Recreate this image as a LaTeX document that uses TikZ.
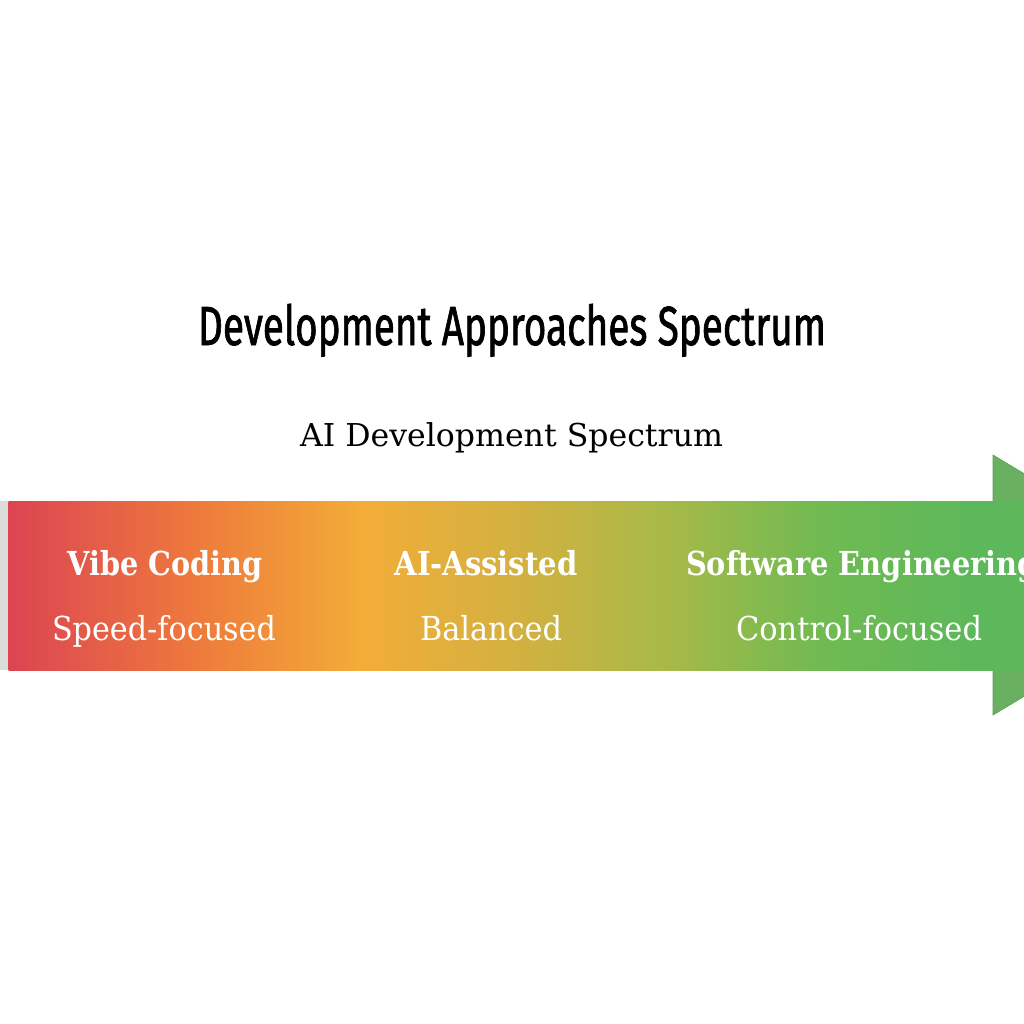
\documentclass[tikz,border=0pt]{standalone}
\usepackage{fontspec}
\usepackage{graphicx}
\newfontfamily\headfont[FakeBold=1.6]{Fira Sans}
\newfontfamily\bodyserif{DejaVu Serif}

% colours of the spectrum band
\definecolor{specA}{HTML}{DC4452}
\definecolor{specB}{HTML}{EE7B3C}
\definecolor{specC}{HTML}{F3AD38}
\definecolor{specD}{HTML}{D2B140}
\definecolor{specE}{HTML}{A9B948}
\definecolor{specF}{HTML}{70BA52}
\definecolor{specG}{HTML}{5CB85A}
\definecolor{headgreen}{HTML}{69B061}
\definecolor{headedge}{HTML}{5E9E58}
\definecolor{stripgray}{HTML}{DADCDA}

% the band colour runs from 25bp (left edge) to 75bp (right edge)
\pgfdeclarehorizontalshading{spectrum}{100bp}{%
  color(0bp)=(specA); color(25bp)=(specA); color(34.45bp)=(specB);
  color(42.32bp)=(specC); color(50.2bp)=(specD); color(57.09bp)=(specE);
  color(64.96bp)=(specF); color(72.83bp)=(specG); color(75bp)=(specG);
  color(100bp)=(specG)}

% text scaled to a given width, height kept
\newcommand{\widthto}[2]{\resizebox{#1}{\height}{#2}}

\tikzset{
  lbl/.style={inner sep=0pt, outer sep=0pt, anchor=base},
  stagename/.style={lbl, text=white, font=\bodyserif\bfseries\fontsize{33}{33}\selectfont},
  stagenote/.style={lbl, text=white, font=\bodyserif\fontsize{33}{33}\selectfont},
}

\begin{document}
\begin{tikzpicture}[x=1pt, y=-1pt]
  \useasboundingbox (0,0) rectangle (1024,1024);
  \fill[white] (0,0) rectangle (1024,1024);
  \clip (0,0) rectangle (1024,1024);

  % headings
  \node[lbl, anchor=base west] (title) at (198,345)
    {\widthto{628pt}{\headfont\fontsize{55}{55}\selectfont Development Approaches Spectrum}};
  \node[lbl, anchor=base west] (subtitle) at (300,446)
    {\widthto{423pt}{\bodyserif\fontsize{31.5}{31.5}\selectfont AI Development Spectrum}};

  % spectrum arrow
  \fill[stripgray] (0,501) rectangle (8.5,670);
  \filldraw[fill=headgreen, draw=headedge, line width=0.6pt]
    (993,455) -- (1210,585) -- (993,715) -- cycle;
  \shade[shading=spectrum] (8.5,501) rectangle (1024,670);

  % stages along the spectrum
  \node[stagename] (vibe) at (165,575) {\widthto{195pt}{Vibe Coding}};
  \node[stagenote] (speed) at (164,640) {\widthto{224pt}{Speed-focused}};
  \node[stagename] (assisted) at (486,575) {\widthto{183pt}{AI-Assisted}};
  \node[stagenote] (balanced) at (491,640) {\widthto{142pt}{Balanced}};
  \node[stagename, anchor=base west] (swe) at (686,575) {\widthto{352pt}{Software Engineering}};
  \node[stagenote] (control) at (859,640) {\widthto{246pt}{Control-focused}};
\end{tikzpicture}
\end{document}
